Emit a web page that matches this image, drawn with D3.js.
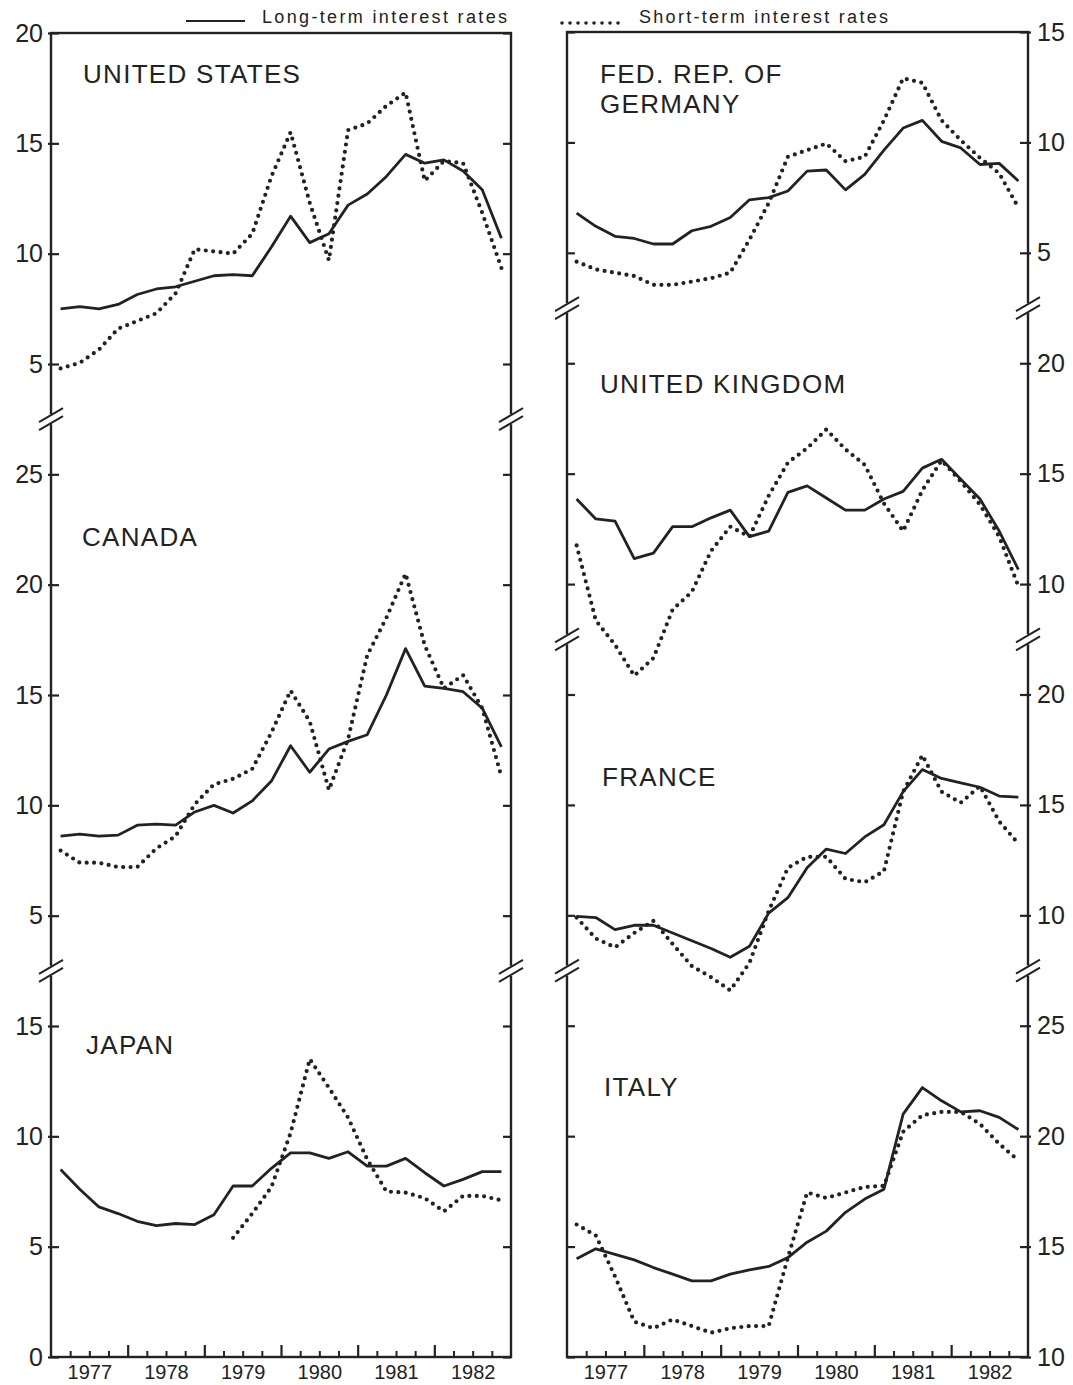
<!DOCTYPE html>
<html>
<head>
<meta charset="utf-8">
<script src="https://cdn.jsdelivr.net/npm/d3@7"></script>
<style>
  body { margin: 0; background: #fff; }
  svg text { font-family: "Liberation Sans", Arial, sans-serif; fill: #222; }
</style>
</head>
<body>
<svg id="chart" width="1073" height="1385"></svg>
<script>
// quarterly observations, 1977Q1 .. 1982Q4
const quarters = [
  "1977Q1","1977Q2","1977Q3","1977Q4","1978Q1","1978Q2","1978Q3","1978Q4",
  "1979Q1","1979Q2","1979Q3","1979Q4","1980Q1","1980Q2","1980Q3","1980Q4",
  "1981Q1","1981Q2","1981Q3","1981Q4","1982Q1","1982Q2","1982Q3","1982Q4"
];
const years = ["1977", "1978", "1979", "1980", "1981", "1982"];

const usLong = [7.5, 7.6, 7.5, 7.7, 8.15, 8.4, 8.5, 8.75, 9.0, 9.05, 9.0, 10.3, 11.7, 10.5, 10.9, 12.2, 12.7, 13.5, 14.5, 14.1, 14.25, 13.75, 12.9, 10.7];
const usShort = [4.8, 5.05, 5.65, 6.6, 6.95, 7.3, 8.2, 10.2, 10.1, 10.0, 10.9, 13.5, 15.5, 12.3, 9.7, 15.6, 15.9, 16.7, 17.3, 13.3, 14.2, 14.1, 11.85, 9.35];
const canadaLong = [8.6, 8.7, 8.6, 8.65, 9.1, 9.15, 9.1, 9.7, 10.0, 9.65, 10.2, 11.1, 12.7, 11.5, 12.55, 12.9, 13.2, 15.0, 17.1, 15.4, 15.3, 15.15, 14.4, 12.65];
const canadaShort = [7.95, 7.4, 7.4, 7.2, 7.2, 8.05, 8.6, 10.05, 10.95, 11.2, 11.65, 13.3, 15.2, 13.8, 10.7, 13.0, 16.8, 18.5, 20.5, 17.25, 15.3, 15.9, 14.4, 11.3];
const japanLong = [8.5, 7.6, 6.8, 6.5, 6.15, 5.95, 6.05, 6.0, 6.45, 7.75, 7.75, 8.55, 9.25, 9.25, 9.0, 9.3, 8.65, 8.65, 9.0, 8.35, 7.75, 8.05, 8.4, 8.4];
const japanShort = [null, null, null, null, null, null, null, null, null, 5.4, 6.5, 7.7, 10.15, 13.5, 12.2, 10.85, 8.95, 7.5, 7.45, 7.2, 6.6, 7.3, 7.3, 7.1];
const germanyLong = [6.8, 6.2, 5.75, 5.65, 5.4, 5.4, 6.0, 6.2, 6.6, 7.4, 7.5, 7.8, 8.7, 8.75, 7.85, 8.55, 9.65, 10.65, 11.0, 10.05, 9.75, 9.0, 9.05, 8.25];
const germanyShort = [4.6, 4.25, 4.1, 3.95, 3.55, 3.55, 3.7, 3.85, 4.1, 5.6, 7.25, 9.35, 9.65, 9.95, 9.15, 9.35, 11.0, 12.9, 12.7, 11.0, 10.1, 9.3, 8.6, 7.05];
const ukLong = [13.85, 12.95, 12.85, 11.15, 11.4, 12.6, 12.6, 13.0, 13.35, 12.15, 12.4, 14.15, 14.45, 13.9, 13.35, 13.35, 13.85, 14.2, 15.25, 15.65, 14.75, 13.85, 12.4, 10.65];
const ukShort = [11.75, 8.35, 7.25, 5.85, 6.65, 8.85, 9.65, 11.5, 12.6, 12.15, 14.0, 15.5, 16.15, 17.0, 16.1, 15.4, 13.65, 12.4, 14.25, 15.6, 14.65, 13.6, 12.15, 9.9];
const franceLong = [9.95, 9.9, 9.35, 9.55, 9.55, 9.2, 8.85, 8.5, 8.1, 8.6, 10.1, 10.8, 12.15, 13.0, 12.8, 13.55, 14.1, 15.6, 16.6, 16.2, 16.0, 15.8, 15.4, 15.35];
const franceShort = [9.9, 8.95, 8.55, 9.2, 9.75, 8.7, 7.7, 7.2, 6.6, 7.85, 10.2, 12.15, 12.65, 12.65, 11.65, 11.5, 12.0, 15.6, 17.25, 15.6, 15.1, 15.85, 14.25, 13.25];
const italyLong = [14.45, 14.9, 14.65, 14.4, 14.05, 13.75, 13.45, 13.45, 13.75, 13.95, 14.1, 14.5, 15.2, 15.7, 16.55, 17.15, 17.6, 21.0, 22.2, 21.6, 21.1, 21.15, 20.85, 20.3];
const italyShort = [16.0, 15.5, 13.65, 11.6, 11.3, 11.7, 11.4, 11.1, 11.3, 11.4, 11.4, 14.5, 17.45, 17.2, 17.45, 17.7, 17.75, 20.2, 20.95, 21.1, 21.1, 20.55, 19.65, 18.9];

const usTicks = [5, 10, 15, 20];
const canadaTicks = [5, 10, 15, 20, 25];
const japanTicks = [0, 5, 10, 15];
const germanyTicks = [5, 10, 15];
const ukTicks = [10, 15, 20];
const franceTicks = [10, 15, 20];
const italyTicks = [10, 15, 20, 25];

const ink = "#222";
const svg = d3.select("#chart");
const qTime = q => +q.slice(0, 4) + (+q.slice(5) - 0.5) / 4;

// panels: each country owns a band of the frame, hi..lo on its own value scale
const panels = [
  { x0: 51, x1: 511, top: 33, bottom: 1357, labelSide: "left", countries: [
    { names: ["UNITED STATES"], hi: 20, lo: 2.5, ticks: usTicks, long: usLong, short: usShort, tx: 83, ty: 50 },
    { names: ["CANADA"], hi: 27.5, lo: 2.5, ticks: canadaTicks, long: canadaLong, short: canadaShort, tx: 82, ty: 127 },
    { names: ["JAPAN"], hi: 17.5, lo: 0, ticks: japanTicks, long: japanLong, short: japanShort, tx: 86, ty: 83 }
  ]},
  { x0: 567, x1: 1028, top: 32, bottom: 1357, labelSide: "right", countries: [
    { names: ["FED. REP. OF", "GERMANY"], hi: 15, lo: 2.5, ticks: germanyTicks, long: germanyLong, short: germanyShort, tx: 600, ty: 51 },
    { names: ["UNITED KINGDOM"], hi: 22.5, lo: 7.5, ticks: ukTicks, long: ukLong, short: ukShort, tx: 600, ty: 85 },
    { names: ["FRANCE"], hi: 22.5, lo: 7.5, ticks: franceTicks, long: franceLong, short: franceShort, tx: 602, ty: 147 },
    { names: ["ITALY"], hi: 27.5, lo: 10, ticks: italyTicks, long: italyLong, short: italyShort, tx: 604, ty: 125 }
  ]}
];

function breakMark(g, x, y) {
  g.append("rect").attr("x", x - 3).attr("y", y - 5).attr("width", 6).attr("height", 10).attr("fill", "#fff");
  [-4, 4].forEach(d => {
    g.append("line")
      .attr("x1", x - 12).attr("y1", y + d + 7)
      .attr("x2", x + 12).attr("y2", y + d - 7)
      .attr("stroke", ink).attr("stroke-width", 2);
  });
}

panels.forEach(p => {
  const g = svg.append("g");
  const x = d3.scaleLinear().domain([1977, 1983]).range([p.x0, p.x1]);
  const unit = (p.bottom - p.top) / 60;

  g.append("rect")
    .attr("x", p.x0).attr("y", p.top)
    .attr("width", p.x1 - p.x0).attr("height", p.bottom - p.top)
    .attr("fill", "none").attr("stroke", ink).attr("stroke-width", 2.4);

  let cum = 0;
  const breaks = [];
  p.countries.forEach((c, ci) => {
    const y0 = p.top + cum * unit;
    cum += c.hi - c.lo;
    const y1 = p.top + cum * unit;
    if (ci > 0) breaks.push(y0);
    const y = d3.scaleLinear().domain([c.hi, c.lo]).range([y0, y1]);

    // y ticks on both sides, labels on one side
    const leftAxis = d3.axisLeft(y).tickValues(c.ticks).tickSize(-8).tickPadding(8);
    const rightAxis = d3.axisRight(y).tickValues(c.ticks).tickSize(-8).tickPadding(9);
    if (p.labelSide === "left") rightAxis.tickFormat(""); else leftAxis.tickFormat("");

    [[leftAxis, p.x0, -3, "left"], [rightAxis, p.x1, 3, "right"]].forEach(([ax, xp, out, side]) => {
      const a = g.append("g")
        .attr("transform", `translate(${xp},0)`)
        .attr("color", ink).attr("font-size", null).attr("font-family", null)
        .call(ax);
      a.select(".domain").remove();
      a.selectAll(".tick line").attr("stroke-width", 2.2);
      if (side === p.labelSide) a.selectAll(".tick line").attr("x1", out);
      a.selectAll(".tick text").attr("font-size", 25);
    });

    // series
    const line = d3.line()
      .defined(d => d.v != null)
      .x(d => x(d.t))
      .y(d => y(d.v));
    const shortData = quarters.map((q, i) => ({ t: qTime(q), v: c.short[i] }));
    const longData = quarters.map((q, i) => ({ t: qTime(q), v: c.long[i] }));

    g.append("path").datum(shortData)
      .attr("d", line).attr("fill", "none").attr("stroke", ink)
      .attr("stroke-width", 4.2).attr("stroke-linecap", "round")
      .attr("stroke-dasharray", "0 7.4");
    g.append("path").datum(longData)
      .attr("d", line).attr("fill", "none").attr("stroke", ink)
      .attr("stroke-width", 2.8).attr("stroke-linejoin", "round");

    // country name
    c.names.forEach((n, k) => {
      g.append("text")
        .attr("x", c.tx).attr("y", y0 + c.ty + k * 30)
        .attr("font-size", 26).attr("letter-spacing", 1.3)
        .text(n);
    });
  });

  breaks.forEach(by => { breakMark(g, p.x0, by); breakMark(g, p.x1, by); });

  // x axis: quarter ticks, year ticks, year labels
  const minor = [];
  years.forEach(yr => [0.25, 0.5, 0.75].forEach(f => minor.push(+yr + f)));
  const major = years.slice(1).map(yr => +yr);
  const mid = years.map(yr => +yr + 0.5);

  g.append("g").attr("transform", `translate(0,${p.bottom})`).attr("color", ink)
    .call(d3.axisBottom(x).tickValues(minor).tickSize(-6).tickFormat(""))
    .call(a => { a.select(".domain").remove(); a.selectAll(".tick line").attr("stroke-width", 2); });
  g.append("g").attr("transform", `translate(0,${p.bottom})`).attr("color", ink)
    .call(d3.axisBottom(x).tickValues(major).tickSize(-12).tickFormat(""))
    .call(a => { a.select(".domain").remove(); a.selectAll(".tick line").attr("stroke-width", 2.2); });
  g.append("g").attr("transform", `translate(0,${p.bottom})`).attr("color", ink)
    .attr("font-size", null).attr("font-family", null)
    .call(d3.axisBottom(x).tickValues(mid).tickSize(0).tickPadding(8).tickFormat((d, i) => years[i]))
    .call(a => { a.select(".domain").remove(); a.selectAll(".tick text").attr("font-size", 20); });
});

// legend
const leg = svg.append("g");
leg.append("line").attr("x1", 186).attr("x2", 245).attr("y1", 21).attr("y2", 21)
  .attr("stroke", ink).attr("stroke-width", 2);
leg.append("text").attr("x", 262).attr("y", 23).attr("font-size", 18)
  .attr("textLength", 245).attr("lengthAdjust", "spacing")
  .text("Long-term interest rates");
leg.append("line").attr("x1", 562).attr("x2", 626).attr("y1", 23).attr("y2", 23)
  .attr("stroke", ink).attr("stroke-width", 3.6).attr("stroke-linecap", "round")
  .attr("stroke-dasharray", "0 8");
leg.append("text").attr("x", 639).attr("y", 23).attr("font-size", 18)
  .attr("textLength", 249).attr("lengthAdjust", "spacing")
  .text("Short-term interest rates");
</script>
</body>
</html>
